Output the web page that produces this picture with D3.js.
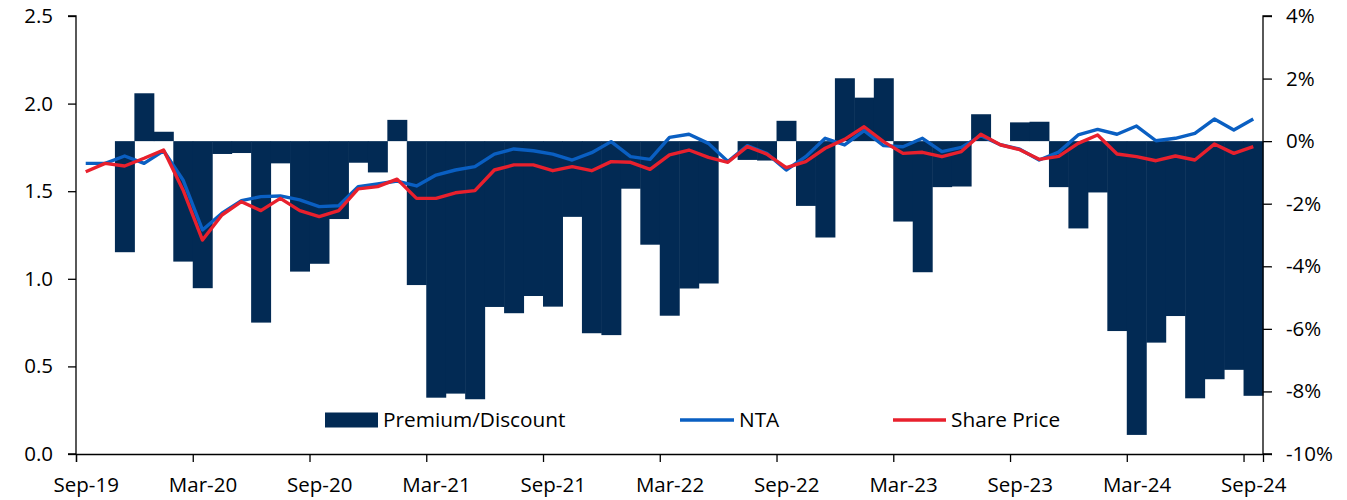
<!DOCTYPE html>
<html>
<head>
<meta charset="utf-8">
<script src="https://cdn.jsdelivr.net/npm/d3@7"></script>
<style>
    body { margin: 0; background: #fff; }
    svg text { font-family: 'Open Sans', sans-serif; fill: #000; }
</style>
</head>
<body>
<div id="chart"></div>
<script>
// monthly, Sep-19 .. Sep-24
const months = d3.timeMonth.range(new Date(2019, 8, 1), new Date(2024, 9, 1));
const tickLabels = ['Sep-19', 'Mar-20', 'Sep-20', 'Mar-21', 'Sep-21', 'Mar-22',
    'Sep-22', 'Mar-23', 'Sep-23', 'Mar-24', 'Sep-24'];

// premium / discount to NTA, %
const premium = [null, null, -3.55, 1.53, 0.30, -3.85, -4.70, -0.41, -0.38, -5.80,
    -0.71, -4.17, -3.92, -2.49, -0.69, -1.00, 0.68, -4.60, -8.20, -8.07,
    -8.25, -5.30, -5.50, -4.95, -5.29, -2.42, -6.14, -6.20, -1.52, -3.31,
    -5.58, -4.71, -4.55, null, -0.60, -0.62, 0.65, -2.07, -3.08, 2.01,
    1.39, 2.01, -2.57, -4.19, -1.47, -1.45, 0.86, null, 0.60, 0.62,
    -1.47, -2.79, -1.64, -6.07, -9.39, -6.44, -5.59, -8.22, -7.61, -7.31,
    -8.14];

const nta = [1.659, 1.659, 1.701, 1.659, 1.731, 1.564, 1.279, 1.374, 1.446, 1.469,
    1.473, 1.450, 1.412, 1.417, 1.526, 1.541, 1.558, 1.530, 1.592, 1.621,
    1.640, 1.712, 1.741, 1.731, 1.712, 1.678, 1.720, 1.783, 1.697, 1.682,
    1.807, 1.825, 1.773, 1.669, 1.760, 1.716, 1.621, 1.697, 1.802, 1.764,
    1.846, 1.760, 1.754, 1.802, 1.726, 1.750, 1.817, 1.765, 1.740, 1.678,
    1.723, 1.821, 1.853, 1.825, 1.872, 1.788, 1.802, 1.830, 1.912, 1.849,
    1.912];

const sharePrice = [1.611, 1.659, 1.644, 1.688, 1.735, 1.507, 1.221, 1.364, 1.440, 1.389,
    1.459, 1.389, 1.355, 1.389, 1.513, 1.526, 1.569, 1.459, 1.459, 1.491,
    1.503, 1.621, 1.650, 1.650, 1.617, 1.640, 1.617, 1.669, 1.665, 1.625,
    1.707, 1.735, 1.693, 1.665, 1.754, 1.712, 1.634, 1.669, 1.745, 1.796,
    1.868, 1.783, 1.716, 1.722, 1.697, 1.726, 1.825, 1.765, 1.737, 1.682,
    1.699, 1.773, 1.821, 1.712, 1.697, 1.674, 1.701, 1.678, 1.769, 1.716,
    1.754];

const width = 1347;
const height = 500;
const margin = { top: 16, right: 84, bottom: 46, left: 76 };

const barColor = '#022a54';
const ntaColor = '#0a5fc2';
const priceColor = '#e8202d';

const svg = d3.select('#chart').append('svg')
    .attr('width', width)
    .attr('height', height);

const x = d3.scaleBand()
    .domain(d3.range(months.length))
    .range([margin.left, width - margin.right])
    .padding(0);

// ticks sit on the band edges, labels on the band centres (Excel date axis)
const xTick = d3.scaleLinear()
    .domain([0, months.length])
    .range([margin.left, width - margin.right]);

const yLeft = d3.scaleLinear()
    .domain([0, 2.5])
    .range([height - margin.bottom, margin.top]);

const yRight = d3.scaleLinear()
    .domain([-10, 4])
    .range([height - margin.bottom, margin.top]);

// bars
svg.append('g')
    .selectAll('rect')
    .data(premium.map((v, i) => ({ v, i })).filter(d => d.v !== null))
    .join('rect')
    .attr('x', d => x(d.i))
    .attr('width', x.bandwidth() + 0.5)
    .attr('y', d => yRight(Math.max(0, d.v)))
    .attr('height', d => Math.abs(yRight(d.v) - yRight(0)))
    .attr('fill', barColor);

const line = vals => d3.line()
    .x((d, i) => x(i) + x.bandwidth() / 2)
    .y(d => yLeft(d))(vals);

svg.append('path')
    .attr('d', line(nta))
    .attr('fill', 'none')
    .attr('stroke', ntaColor)
    .attr('stroke-width', 3.4)
    .attr('stroke-linejoin', 'round');

svg.append('path')
    .attr('d', line(sharePrice))
    .attr('fill', 'none')
    .attr('stroke', priceColor)
    .attr('stroke-width', 3.4)
    .attr('stroke-linejoin', 'round');

// axes
const leftAxis = svg.append('g')
    .attr('transform', `translate(${margin.left},0)`)
    .call(d3.axisLeft(yLeft).tickValues([0, 0.5, 1, 1.5, 2, 2.5])
        .tickFormat(d3.format('.1f')).tickSize(8).tickPadding(15));

const rightAxis = svg.append('g')
    .attr('transform', `translate(${width - margin.right},0)`)
    .call(d3.axisRight(yRight).tickValues([-10, -8, -6, -4, -2, 0, 2, 4])
        .tickFormat(d => `${d}%`).tickSize(9).tickPadding(14));

const bottomAxis = svg.append('g')
    .attr('transform', `translate(0,${height - margin.bottom})`)
    .call(d3.axisBottom(xTick).tickValues(d3.range(0, months.length, 6))
        .tickFormat((d, i) => tickLabels[i]).tickSize(8).tickPadding(15));
bottomAxis.selectAll('.tick text').attr('x', x.bandwidth() / 2);

[leftAxis, rightAxis, bottomAxis].forEach((g) => {
    g.select('.domain').attr('stroke', '#000').attr('stroke-width', 1.3);
    g.selectAll('.tick line').attr('stroke', '#000').attr('stroke-width', 1.3);
    g.selectAll('text').style('font-size', '20.5px').style('font-family', "'Open Sans', sans-serif");
});
leftAxis.select('.domain').attr('d', `M-8,${yLeft(2.5)}H0V${yLeft(0)}H-8`);
rightAxis.select('.domain').attr('d', `M9,${yRight(4)}H0V${yRight(-10)}H9`);

// legend
const legend = svg.append('g');
const legendY = 420;
const legendFont = '20.8px';

legend.append('rect')
    .attr('x', 325)
    .attr('y', legendY - 7.5)
    .attr('width', 53)
    .attr('height', 15)
    .attr('fill', barColor);
legend.append('text')
    .attr('x', 383)
    .attr('y', legendY)
    .attr('dy', '0.36em')
    .style('font-size', legendFont)
    .text('Premium/Discount');

legend.append('line')
    .attr('x1', 680).attr('x2', 734)
    .attr('y1', legendY).attr('y2', legendY)
    .attr('stroke', ntaColor)
    .attr('stroke-width', 3.4);
legend.append('text')
    .attr('x', 739)
    .attr('y', legendY)
    .attr('dy', '0.36em')
    .style('font-size', legendFont)
    .text('NTA');

legend.append('line')
    .attr('x1', 893).attr('x2', 946)
    .attr('y1', legendY).attr('y2', legendY)
    .attr('stroke', priceColor)
    .attr('stroke-width', 3.4);
legend.append('text')
    .attr('x', 951)
    .attr('y', legendY)
    .attr('dy', '0.36em')
    .style('font-size', legendFont)
    .text('Share Price');
</script>
</body>
</html>
